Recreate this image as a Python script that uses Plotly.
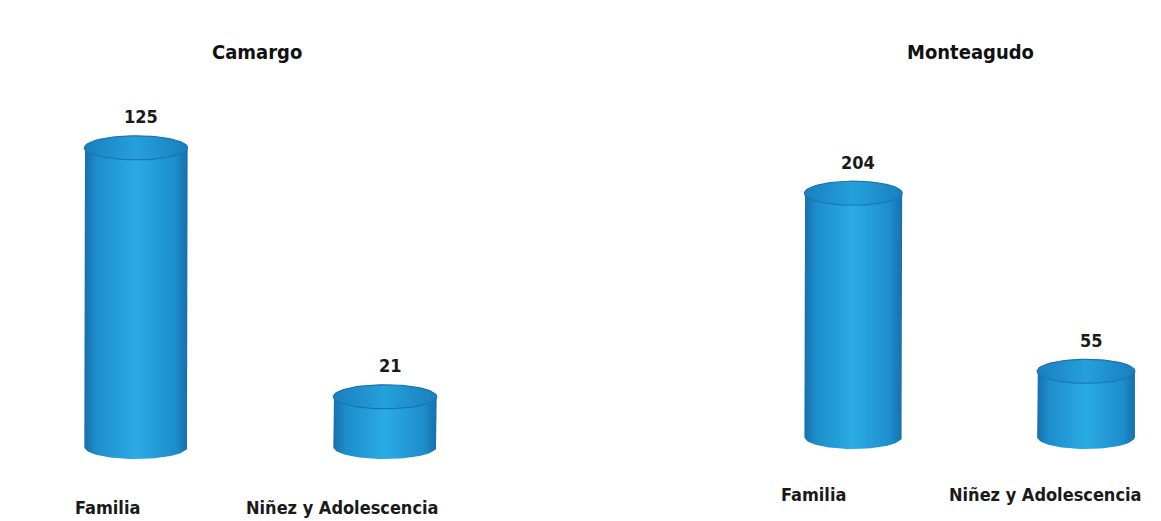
import numpy as np
import plotly.graph_objects as go

# Casos atendidos por área, por municipio
municipios = ["Camargo", "Monteagudo"]
categorias = ["Familia", "Niñez y Adolescencia"]
camargo = [125, 21]
monteagudo = [204, 55]
valores = [camargo, monteagudo]

W, H = 1161, 521
FONT = "Liberation Sans Narrow, Arial Narrow, DejaVu Sans Condensed, sans-serif"
PAD = 24  # room below the baseline for the bottom ellipse, pixels

# Per-panel geometry: x domain/range, baseline pixel, top pixel, axis max, bar width, label offsets
paneles = [
    dict(xdom=[0.0, 0.5], xr=[-0.546, 1.785], base_px=447, top_px=100, ymax=145,
         ancho=0.415, lab_y=(H - 507) / H, lab_shift=[-28, -43], tit_x=257 / W),
    dict(xdom=[0.5, 1.0], xr=[-1.172, 1.322], base_px=437, top_px=100, ymax=282,
         ancho=0.42, lab_y=(H - 494) / H, lab_shift=[-40, -41], tit_x=970 / W),
]
for p in paneles:
    ppu = (p["base_px"] - p["top_px"]) / p["ymax"]
    p["ydom"] = [(H - p["base_px"] - PAD) / H, (H - p["top_px"]) / H]
    p["yr"] = [-PAD / ppu, p["ymax"]]
    p["ppu"] = ppu

cuerpo = [[0, "#176fac"], [0.12, "#1d8dcc"], [0.5, "#2aabe3"], [0.88, "#1d8dcc"], [1, "#176fac"]]
tapa = [[0, "#1a7fbf"], [0.5, "#25a0da"], [1, "#1a7fbf"]]

fig = go.Figure()
annotations = []
RY_PX = 12  # half-height of the elliptical caps, in pixels

for i, (mun, vals, p) in enumerate(zip(municipios, valores, paneles)):
    xa = "x" if i == 0 else "x2"
    ya = "y" if i == 0 else "y2"
    ry = RY_PX / p["ppu"]
    t = np.linspace(0, np.pi, 40)
    for j, v in enumerate(vals):
        c, hw = j, p["ancho"] / 2
        # cylinder silhouette: sides, upper half of top ellipse, lower half of bottom ellipse
        xs = np.concatenate([[c - hw, c - hw], c - hw * np.cos(t), [c + hw, c + hw], c + hw * np.cos(t)])
        ys = np.concatenate([[0, v], v + ry * np.sin(t), [v, 0], -ry * np.sin(t)])
        fig.add_trace(go.Scatter(x=xs, y=ys, xaxis=xa, yaxis=ya, mode="lines", fill="toself",
                                 line=dict(width=0, color="#1a7fbf"),
                                 fillgradient=dict(type="horizontal", colorscale=cuerpo),
                                 hoverinfo="skip", showlegend=False))
        # top cap ellipse
        tt = np.linspace(0, 2 * np.pi, 80)
        fig.add_trace(go.Scatter(x=c + hw * np.cos(tt), y=v + ry * np.sin(tt), xaxis=xa, yaxis=ya,
                                 mode="lines", fill="toself",
                                 line=dict(width=1.2, color="#1877b3"),
                                 fillgradient=dict(type="horizontal", colorscale=tapa),
                                 hoverinfo="skip", showlegend=False))
        # value label
        annotations.append(dict(x=c, y=v, xref=xa, yref=ya, yshift=31, xshift=5,
                                text="<b>" + str(v) + "</b>", showarrow=False,
                                font=dict(family=FONT, size=18, color="#1a1a1a")))
        # category label
        annotations.append(dict(x=c, y=p["lab_y"], xref=xa, yref="paper", xshift=p["lab_shift"][j],
                                text="<b>" + categorias[j] + "</b>", showarrow=False,
                                xanchor="center", yanchor="middle",
                                font=dict(family=FONT, size=18, color="#1a1a1a")))
    annotations.append(dict(x=p["tit_x"], y=(H - 52) / H, xref="paper", yref="paper",
                            text="<b>" + mun + "</b>", showarrow=False,
                            xanchor="center", yanchor="middle",
                            font=dict(family=FONT, size=20, color="#111111")))

eje = dict(showgrid=False, zeroline=False, showticklabels=False, showline=False, ticks="")
fig.update_layout(
    width=W, height=H, margin=dict(l=0, r=0, t=0, b=0),
    paper_bgcolor="white", plot_bgcolor="white",
    xaxis=dict(domain=paneles[0]["xdom"], range=paneles[0]["xr"], anchor="y", **eje),
    yaxis=dict(domain=paneles[0]["ydom"], range=paneles[0]["yr"], anchor="x", **eje),
    xaxis2=dict(domain=paneles[1]["xdom"], range=paneles[1]["xr"], anchor="y2", **eje),
    yaxis2=dict(domain=paneles[1]["ydom"], range=paneles[1]["yr"], anchor="x2", **eje),
    annotations=annotations,
)

fig.write_html("out.html")
